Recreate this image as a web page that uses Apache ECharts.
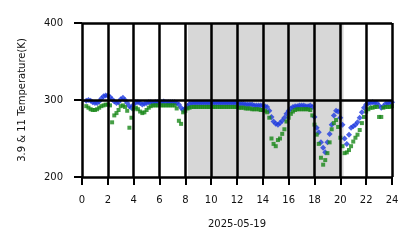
<!DOCTYPE html>
<html><head><meta charset="utf-8">
<script src="https://cdn.jsdelivr.net/npm/echarts@6/dist/echarts.min.js"></script>
<style>html,body{margin:0;padding:0;background:#fff}#c{width:418px;height:248px}</style>
</head><body><div id="c"></div>
<script>
const dateLabel = '2025-05-19';
const yTitle = '3.9 & 11 Temperature(K)';
const xTicks = [0,2,4,6,8,10,12,14,16,18,20,22,24];
const yTicks = [200,300,400];
const shadeStart = 8.2, shadeEnd = 20.25;
const hours = [0.33,0.5,0.67,0.83,
1,1.17,1.33,1.5,1.67,1.83, 2,2.17,2.33,2.5,2.67,2.83, 3,3.17,3.33,3.5,3.67,3.83,
4,4.17,4.33,4.5,4.67,4.83, 5,5.17,5.33,5.5,5.67,5.83, 6,6.17,6.33,6.5,6.67,6.83,
7,7.17,7.33,7.5,7.67,7.83, 8,8.17,8.33,8.5,8.67,8.83, 9,9.17,9.33,9.5,9.67,9.83,
10,10.17,10.33,10.5,10.67,10.83, 11,11.17,11.33,11.5,11.67,11.83, 12,12.17,12.33,12.5,12.67,12.83,
13,13.17,13.33,13.5,13.67,13.83, 14,14.17,14.33,14.5,14.67,14.83, 15,15.17,15.33,15.5,15.67,15.83,
16,16.17,16.33,16.5,16.67,16.83, 17,17.17,17.33,17.5,17.67,17.83, 18,18.17,18.33,18.5,18.67,18.83,
19,19.17,19.33,19.5,19.67,19.83, 20,20.17,20.33,20.5,20.67,20.83, 21,21.17,21.33,21.5,21.67,21.83,
22,22.17,22.33,22.5,22.67,22.83, 23,23.17,23.33,23.5,23.67,23.83, 24];
const t39 = [299,300,299,297,
296,296,298,302,305,306, 306,304,301,298,296,297, 301,303,300,296,292,290,
294,297,297,296,294,295, 296,297,297,296,297,297, 297,297,298,297,297,297,
297,297,296,294,290,287, 289,292,295,296,296,296, 296,296,296,296,296,296,
296,296,296,296,296,296, 296,296,296,296,296,296, 296,295,295,295,294,294,
294,294,293,293,293,293, 293,292,291,286,278,272, 269,268,270,273,277,282,
286,289,291,292,292,293, 293,293,292,292,293,291, 278,264,258,245,238,232,
245,256,268,280,286,285, 277,268,250,243,255,264, 266,268,271,277,284,290,
294,296,296,297,296,296, 293,290,292,295,296,296, 297];
const t11 = [292,290,288,287,
287,288,290,292,293,294, 294,293,271,280,283,287, 292,293,291,286,264,277,
288,290,288,285,283,284, 287,290,292,293,293,293, 293,293,293,293,293,293,
293,293,289,273,269,284, 286,289,290,291,291,291, 291,291,291,291,291,291,
291,291,291,291,291,291, 291,291,291,291,291,291, 291,290,290,290,289,289,
289,288,288,288,288,287, 287,286,284,277,250,243, 240,248,250,256,262,272,
277,282,285,287,288,288, 288,288,288,288,287,280, 268,255,243,225,216,222,
231,245,262,270,274,265, 251,240,231,232,235,240, 246,251,255,261,270,278,
285,288,290,290,291,291, 278,278,290,291,291,291, 292];

const font = 'DejaVu Sans';
const txt = '#111';
const chart = echarts.init(document.getElementById('c'), null, {renderer:'canvas'});
const gridLines = xTicks.map(v=>({xAxis:v})).concat(yTicks.map(v=>({yAxis:v})));
chart.setOption({
  animation:false,
  grid:{left:82, right:26, top:23, bottom:71},
  xAxis:{type:'value', min:xTicks[0], max:xTicks[xTicks.length-1], interval:2,
    name:dateLabel, nameLocation:'middle', nameGap:42,
    nameTextStyle:{fontFamily:font, fontSize:10, color:txt},
    axisLine:{show:false}, axisTick:{show:true, length:8, lineStyle:{color:'#000', width:2}},
    axisLabel:{fontFamily:font, fontSize:10, color:txt, margin:18},
    splitLine:{show:false}},
  yAxis:{type:'value', min:yTicks[0], max:yTicks[yTicks.length-1], interval:100,
    name:yTitle, nameLocation:'middle', nameGap:55, nameRotate:90,
    nameTextStyle:{fontFamily:font, fontSize:10, color:txt},
    axisLine:{show:false}, axisTick:{show:true, length:8, lineStyle:{color:'#000', width:2}},
    axisLabel:{fontFamily:font, fontSize:10, color:txt, margin:19},
    splitLine:{show:false}},
  series:[
    {type:'line', data:[], z:1, silent:true,
     markArea:{silent:true, itemStyle:{color:'#d7d7d7'}, data:[[{xAxis:shadeStart},{xAxis:shadeEnd}]]}},
    {type:'line', data:[], z:2, silent:true,
     markLine:{silent:true, symbol:['none','none'], label:{show:false},
       lineStyle:{color:'#000', width:2.5, type:'solid'}, emphasis:{disabled:true}, data:gridLines}},
    {type:'scatter', name:'3.9', symbol:'diamond', symbolSize:6, itemStyle:{color:'#1f3be0'},
     data:hours.map((h,i)=>[h,t39[i]]), z:3},
    {type:'scatter', name:'11', symbol:'rect', symbolSize:4, itemStyle:{color:'#188718'},
     data:hours.map((h,i)=>[h,t11[i]]), z:4}
  ]
});
</script></body></html>
